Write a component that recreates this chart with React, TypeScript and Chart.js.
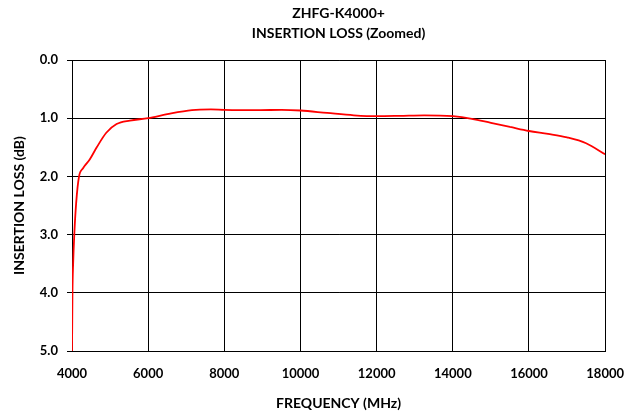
import React, { useEffect, useRef } from "react";
import { Chart, registerables } from "chart.js";

Chart.register(...registerables);

const TITLE_LINES = ["ZHFG-K4000+", "INSERTION LOSS (Zoomed)"];
const X_TITLE = "FREQUENCY (MHz)";
const Y_TITLE = "INSERTION LOSS (dB)";

const freqMHz = [
  4000, 4005, 4012, 4030, 4060, 4110, 4185, 4290, 4465, 4650, 4900, 5170, 5520,
  6000, 6500, 7150, 7650, 8000, 8900, 9500, 10000, 10700, 11400, 12000, 12600,
  13250, 14000, 14500, 15000, 15500, 16000, 16500, 17000, 17500, 18000,
];
const lossDb = [
  5.0, 4.6, 4.0, 3.5, 3.0, 2.45, 2.0, 1.86, 1.71, 1.5, 1.25, 1.1, 1.04,
  1.0, 0.93, 0.86, 0.85, 0.857, 0.862, 0.857, 0.868, 0.91, 0.95, 0.966, 0.96,
  0.95, 0.966, 1.01, 1.08, 1.15, 1.22, 1.27, 1.33, 1.43, 1.62,
];

const FONT = "Lato, 'Open Sans', sans-serif";

const titlePlugin = {
  id: "twoLineTitle",
  afterDraw(chart: any) {
    const { ctx, chartArea } = chart;
    const cx = (chartArea.left + chartArea.right) / 2;
    ctx.save();
    ctx.fillStyle = "#000";
    ctx.font = `bold 14px ${FONT}`;
    ctx.textAlign = "center";
    ctx.textBaseline = "middle";
    ctx.fillText(TITLE_LINES[0], cx, 13);
    ctx.fillText(TITLE_LINES[1], cx, 33);
    ctx.restore();
  },
};

export default function App() {
  const ref = useRef<HTMLCanvasElement | null>(null);
  useEffect(() => {
    document.body.style.margin = "0";
    const chart = new Chart(ref.current as HTMLCanvasElement, {
      type: "line",
      data: {
        datasets: [
          {
            data: freqMHz.map((f, i) => ({ x: f, y: lossDb[i] })),
            borderColor: "#ff0000",
            borderWidth: 1.8,
            pointRadius: 0,
            cubicInterpolationMode: "monotone",
            fill: false,
          },
        ],
      },
      options: {
        animation: false,
        responsive: false,
        devicePixelRatio: 1,
        layout: { padding: { top: 60, right: 33, left: 0, bottom: 0 } },
        plugins: { legend: { display: false }, title: { display: false }, tooltip: { enabled: false } },
        scales: {
          x: {
            type: "linear",
            min: 4000,
            max: 18000,
            ticks: {
              stepSize: 2000,
              color: "#000",
              font: { family: FONT, weight: "bold", size: 13 },
              padding: 15,
              maxRotation: 0,
              callback: (v: any) => String(v),
            },
            grid: { color: "#000", lineWidth: 1, drawTicks: false },
            border: { color: "#000", width: 1 },
            title: { display: true, text: X_TITLE, color: "#000", font: { family: FONT, weight: "bold", size: 14 }, padding: { top: 8, bottom: 1 } },
            afterFit(scale: any) { scale.height = 62; },
          },
          y: {
            reverse: true,
            min: 0,
            max: 5,
            ticks: { stepSize: 1, color: "#000", font: { family: FONT, weight: "bold", size: 13 }, padding: 9, callback: (v: any) => Number(v).toFixed(1) },
            grid: { color: "#000", lineWidth: 1, tickLength: 5 },
            border: { color: "#000", width: 1 },
            title: { display: true, text: Y_TITLE, color: "#000", font: { family: FONT, weight: "bold", size: 14 }, padding: { top: 11, bottom: 4 } },
            afterFit(scale: any) { scale.width = 72; },
          },
        },
      },
      plugins: [titlePlugin],
    } as any);
    return () => chart.destroy();
  }, []);
  return (
    <div style={{ position: "absolute", left: 0, top: 0, width: 639, height: 413, background: "#fff" }}>
      <canvas ref={ref} width={639} height={413} style={{ width: 639, height: 413, display: "block" }} />
    </div>
  );
}
